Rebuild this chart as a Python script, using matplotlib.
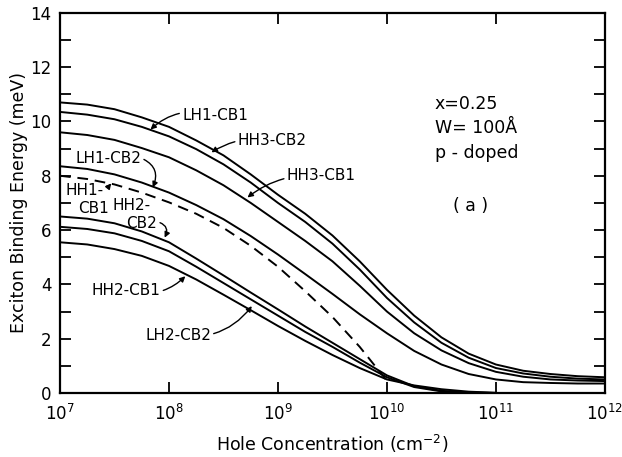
import numpy as np
import matplotlib
matplotlib.use("Agg")
import matplotlib.pyplot as plt
from matplotlib.ticker import MultipleLocator, NullLocator

# log10 of hole concentration (cm^-2) where curves were read
logn = [7.0, 7.25, 7.5, 7.75, 8.0, 8.25, 8.5, 8.75, 9.0, 9.25, 9.5,
        9.75, 10.0, 10.25, 10.5, 10.75, 11.0, 11.25, 11.5, 11.75, 12.0]

lh1_cb1 = [10.7, 10.62, 10.45, 10.15, 9.8, 9.3, 8.75, 8.05, 7.3, 6.6, 5.8,
           4.85, 3.8, 2.85, 2.05, 1.45, 1.05, 0.82, 0.7, 0.62, 0.58]
hh3_cb2 = [10.35, 10.25, 10.08, 9.8, 9.45, 8.98, 8.42, 7.75, 7.0, 6.3, 5.5,
           4.55, 3.5, 2.6, 1.85, 1.3, 0.92, 0.72, 0.6, 0.53, 0.5]
hh3_cb1 = [9.6, 9.5, 9.32, 9.02, 8.68, 8.2, 7.65, 7.0, 6.3, 5.6, 4.85,
           3.95, 3.0, 2.2, 1.57, 1.1, 0.78, 0.6, 0.5, 0.46, 0.44]
lh1_cb2 = [8.35, 8.25, 8.05, 7.75, 7.38, 6.92, 6.4, 5.78, 5.1, 4.38, 3.65,
           2.9, 2.2, 1.55, 1.05, 0.7, 0.5, 0.4, 0.37, 0.35, 0.35]

# dashed HH1-CB1 stops near 10^10
logn_hh1 = [7.0, 7.25, 7.5, 7.75, 8.0, 8.25, 8.5, 8.75, 9.0, 9.25, 9.5,
            9.75, 9.9, 10.0]
hh1_cb1 = [8.0, 7.88, 7.68, 7.38, 7.02, 6.6, 6.08, 5.42, 4.65, 3.75, 2.8,
           1.7, 0.95, 0.45]

# lower group, going to zero above 10^10
logn_low = [7.0, 7.25, 7.5, 7.75, 8.0, 8.25, 8.5, 8.75, 9.0, 9.25, 9.5,
            9.75, 10.0, 10.25, 10.5, 10.75, 11.0]
hh2_cb2 = [6.5, 6.42, 6.25, 5.95, 5.55, 4.95, 4.33, 3.7, 3.08, 2.45, 1.85,
           1.25, 0.65, 0.25, 0.08, 0.02, 0.0]
hh2_cb1 = [6.12, 6.04, 5.88, 5.6, 5.22, 4.65, 4.05, 3.45, 2.85, 2.25, 1.7,
           1.12, 0.58, 0.22, 0.06, 0.01, 0.0]
lh2_cb2 = [5.55, 5.47, 5.3, 5.05, 4.68, 4.18, 3.62, 3.05, 2.47, 1.92, 1.4,
           0.92, 0.5, 0.28, 0.14, 0.05, 0.01]

plt.rcParams['font.family'] = 'DejaVu Sans'

fig = plt.figure(figsize=(6.22, 4.57), dpi=100)
ax = fig.add_axes([0.0965, 0.14, 0.876, 0.832])

n = 10 ** np.array(logn)
lw = 1.4
for y in (lh1_cb1, hh3_cb2, hh3_cb1, lh1_cb2):
    ax.plot(n, y, color='black', lw=lw, solid_joinstyle='round')
for y in (hh2_cb2, hh2_cb1, lh2_cb2):
    ax.plot(10 ** np.array(logn_low), y, color='black', lw=lw,
            solid_joinstyle='round')
ax.plot(10 ** np.array(logn_hh1), hh1_cb1, color='black', lw=lw,
        ls=(0, (5.5, 3.5)))

ax.set_xscale('log')
ax.set_xlim(1e7, 1e12)
ax.set_ylim(0, 14)
ax.xaxis.set_minor_locator(NullLocator())
ax.yaxis.set_major_locator(MultipleLocator(2))
ax.yaxis.set_minor_locator(MultipleLocator(1))
ax.tick_params(which='both', direction='in', top=True, right=True,
               width=1.3, labelsize=12, length=8)
ax.tick_params(axis='x', pad=8)
ax.tick_params(axis='y', pad=6)
for s in ax.spines.values():
    s.set_linewidth(1.6)

ax.set_xlabel('Hole Concentration (cm$^{-2}$)', fontsize=12.5, labelpad=6)
ax.set_ylabel('Exciton Binding Energy (meV)', fontsize=12.5, labelpad=2)

fs = 11
arrow = dict(arrowstyle='-|>', color='black', lw=1.0, mutation_scale=8,
             shrinkA=0, shrinkB=0)


def lab(text, txy, pxy, rad):
    ax.annotate(text, xy=(10 ** pxy[0], pxy[1]), xytext=(10 ** txy[0], txy[1]),
                fontsize=fs, ha='left', va='center',
                arrowprops=dict(arrow, connectionstyle='arc3,rad=%s' % rad))


lab('LH1-CB1', (8.12, 10.2), (7.83, 9.7), 0.3)
lab('HH3-CB2', (8.63, 9.3), (8.39, 8.86), 0.2)
lab('HH3-CB1', (9.08, 8.0), (8.72, 7.2), 0.2)
ax.annotate('LH1-CB2', xy=(10 ** 7.85, 7.57), xytext=(10 ** 7.14, 8.65),
            fontsize=fs, ha='left', va='center',
            arrowprops=dict(arrow, connectionstyle='arc3,rad=-0.5',
                            relpos=(1.0, 0.5)))
ax.annotate('HH1-', xy=(10 ** 7.47, 7.72), xytext=(10 ** 7.05, 7.45),
            fontsize=fs, ha='left', va='center',
            arrowprops=dict(arrow, connectionstyle='arc3,rad=0.3',
                            relpos=(1.0, 0.8)))
ax.text(10 ** 7.17, 6.8, 'CB1', fontsize=fs, ha='left', va='center')
ax.annotate('HH2-', xy=(10 ** 7.96, 5.72), xytext=(10 ** 7.48, 6.9),
            fontsize=fs, ha='left', va='center',
            arrowprops=dict(arrow, connectionstyle='arc3,rad=0.0',
                            relpos=(0.5, 0.5), alpha=0))
ax.annotate('CB2', xy=(10 ** 7.96, 5.72), xytext=(10 ** 7.61, 6.25),
            fontsize=fs, ha='left', va='center',
            arrowprops=dict(arrow, connectionstyle='arc3,rad=-0.6',
                            relpos=(1.0, 0.6)))
lab('HH2-CB1', (7.29, 3.79), (8.15, 4.3), 0.3)
lab('LH2-CB2', (7.78, 2.13), (8.76, 3.2), 0.3)

ax.text(10 ** 10.44, 9.75, 'x=0.25\nW= 100Å\np - doped', fontsize=12.5,
        ha='left', va='center', linespacing=1.45)
ax.text(10 ** 10.77, 6.9, '( a )', fontsize=12.5, ha='center', va='center')

fig.savefig('out.png', dpi=100)
